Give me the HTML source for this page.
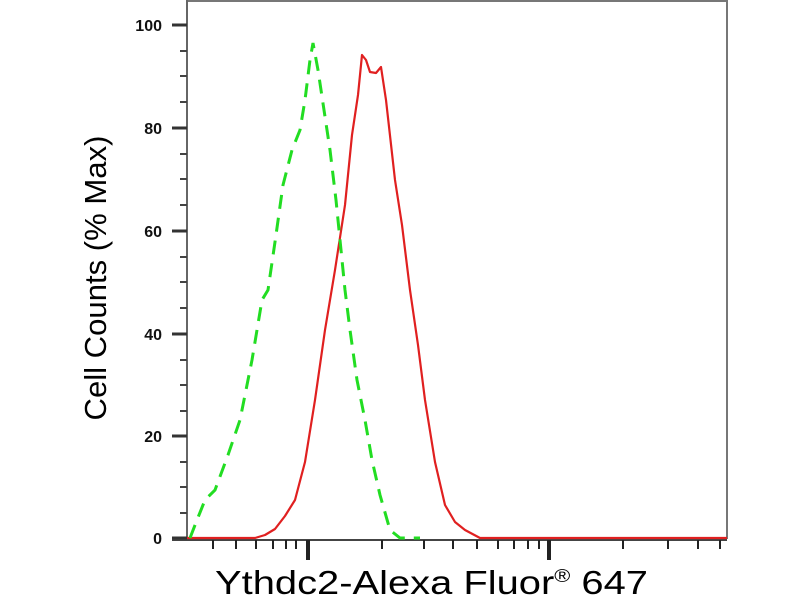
<!DOCTYPE html><html><head><style>body{margin:0;background:#fff}svg{display:block}</style></head><body>
<svg width="800" height="600" viewBox="0 0 800 600" font-family="Liberation Sans, sans-serif">
<rect width="800" height="600" fill="#fff"/>
<path d="M187,1 H727 V539" fill="none" stroke="#777" stroke-width="2"/>
<line x1="187" y1="0" x2="187" y2="540" stroke="#666" stroke-width="2"/>
<line x1="172" y1="540" x2="727" y2="540" stroke="#444" stroke-width="2"/>
<g stroke="#333" stroke-width="3">
<line x1="172" y1="25" x2="187" y2="25"/><line x1="172" y1="128" x2="187" y2="128"/><line x1="172" y1="231" x2="187" y2="231"/><line x1="172" y1="334" x2="187" y2="334"/><line x1="172" y1="436" x2="187" y2="436"/><line x1="172" y1="538" x2="187" y2="538"/>
</g>
<g stroke="#444" stroke-width="2">
<line x1="180" y1="51" x2="187" y2="51"/><line x1="180" y1="76" x2="187" y2="76"/><line x1="180" y1="102" x2="187" y2="102"/>
<line x1="180" y1="154" x2="187" y2="154"/><line x1="180" y1="179" x2="187" y2="179"/><line x1="180" y1="205" x2="187" y2="205"/>
<line x1="180" y1="257" x2="187" y2="257"/><line x1="180" y1="282" x2="187" y2="282"/><line x1="180" y1="308" x2="187" y2="308"/>
<line x1="180" y1="360" x2="187" y2="360"/><line x1="180" y1="385" x2="187" y2="385"/><line x1="180" y1="411" x2="187" y2="411"/>
<line x1="180" y1="462" x2="187" y2="462"/><line x1="180" y1="487" x2="187" y2="487"/><line x1="180" y1="513" x2="187" y2="513"/>
</g>
<g stroke="#222" stroke-width="2">
<line x1="213" y1="540" x2="213" y2="549"/><line x1="236" y1="540" x2="236" y2="549"/><line x1="256" y1="540" x2="256" y2="549"/><line x1="273" y1="540" x2="273" y2="549"/><line x1="286" y1="540" x2="286" y2="549"/><line x1="296" y1="540" x2="296" y2="549"/>
<line x1="382" y1="540" x2="382" y2="549"/><line x1="424" y1="540" x2="424" y2="549"/><line x1="453" y1="540" x2="453" y2="549"/><line x1="477" y1="540" x2="477" y2="549"/><line x1="498" y1="540" x2="498" y2="549"/><line x1="514" y1="540" x2="514" y2="549"/><line x1="528" y1="540" x2="528" y2="549"/><line x1="539" y1="540" x2="539" y2="549"/>
<line x1="623" y1="540" x2="623" y2="549"/><line x1="668" y1="540" x2="668" y2="549"/><line x1="698" y1="540" x2="698" y2="549"/><line x1="720" y1="540" x2="720" y2="549"/>
</g>
<g stroke="#222" stroke-width="4"><line x1="308" y1="540" x2="308" y2="560"/><line x1="549" y1="540" x2="549" y2="560"/></g>
<g font-size="16" fill="#111" text-anchor="end" font-weight="bold">
<text x="162" y="31">100</text><text x="162" y="134">80</text><text x="162" y="237">60</text><text x="162" y="340">40</text><text x="162" y="442">20</text><text x="162" y="544">0</text>
</g>
<path d="M187,538 L255,538 265,535 275,529 285,516 295,500 305,462 315,400 325,330 335,270 345,205 352,135 358,95 362,55 366,60 370,72 376,73 381,67 386,100 395,180 402,225 410,290 418,345 425,400 435,462 445,505 455,522 465,530 480,538 727,538" fill="none" stroke="#e02020" stroke-width="2.2" stroke-linejoin="round"/>
<path d="M190,538 L197,520 205,500 215,490 228,455 240,420 252,360 262,300 268,290 276,235 283,185 292,150 300,130 305,100 310,60 313,43 318,70 324,110 330,150 336,200 340,240 345,290 350,330 357,380 365,420 372,460 380,495 390,530 400,538 420,538" fill="none" stroke="#22dd22" stroke-width="3" stroke-dasharray="14,9"/>
<text transform="translate(106,278) rotate(-90)" font-size="31" text-anchor="middle" fill="#000" textLength="285" lengthAdjust="spacingAndGlyphs">Cell Counts (% Max)</text>
<text x="215" y="594" font-size="33" fill="#000" textLength="433" lengthAdjust="spacingAndGlyphs">Ythdc2-Alexa Fluor<tspan font-size="18" dy="-12">®</tspan><tspan dy="12"> 647</tspan></text>
</svg></body></html>
